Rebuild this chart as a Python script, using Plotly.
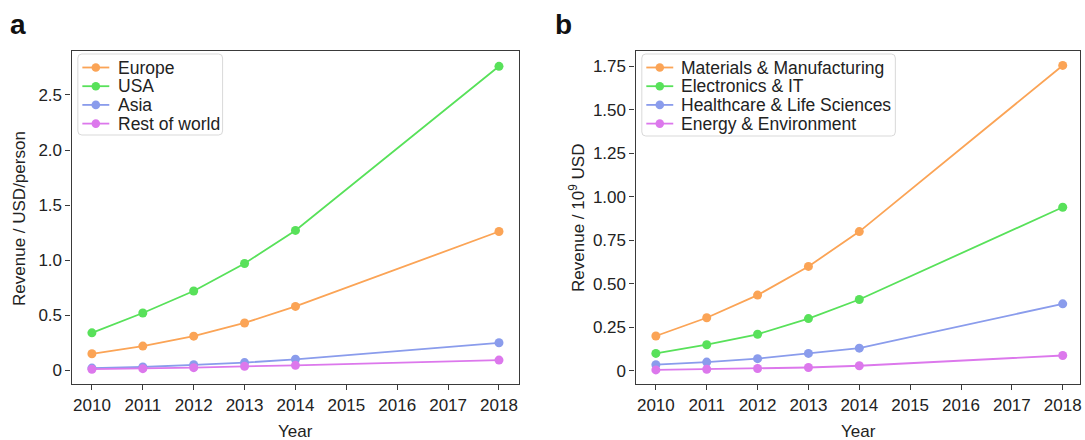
import plotly.graph_objects as go

W, H = 1085, 440

years = [2010, 2011, 2012, 2013, 2014, 2018]

# Panel a: revenue per person by region
regions = ["Europe", "USA", "Asia", "Rest of world"]
europe = [0.15, 0.22, 0.31, 0.43, 0.58, 1.26]
usa = [0.34, 0.52, 0.72, 0.97, 1.27, 2.76]
asia = [0.02, 0.03, 0.05, 0.07, 0.10, 0.25]
rest_of_world = [0.01, 0.015, 0.024, 0.036, 0.045, 0.093]

# Panel b: total revenue by sector
sectors = ["Materials & Manufacturing", "Electronics & IT",
           "Healthcare & Life Sciences", "Energy & Environment"]
materials = [0.20, 0.305, 0.435, 0.60, 0.80, 1.755]
electronics = [0.10, 0.15, 0.21, 0.30, 0.41, 0.94]
healthcare = [0.035, 0.05, 0.07, 0.10, 0.13, 0.385]
energy = [0.005, 0.009, 0.013, 0.019, 0.029, 0.088]

x_ticks = list(range(2010, 2019))
a_yticks = [0, 0.5, 1.0, 1.5, 2.0, 2.5]
a_yticklabels = ["0", "0.5", "1.0", "1.5", "2.0", "2.5"]
b_yticks = [0, 0.25, 0.5, 0.75, 1.0, 1.25, 1.5, 1.75]
b_yticklabels = ["0", "0.25", "0.50", "0.75", "1.00", "1.25", "1.50", "1.75"]

colors = ["#FBA456", "#58E15A", "#8A9CEC", "#DC78EC"]

FONT = "Liberation Sans, Arial, Helvetica, sans-serif"
FRAME = "#3a3a3a"
TEXT = "#222222"

fig = go.Figure()

for name, vals, c in zip(regions, [europe, usa, asia, rest_of_world], colors):
    fig.add_trace(go.Scatter(
        x=years, y=vals, name=name, mode="lines+markers",
        line=dict(color=c, width=1.8), marker=dict(color=c, size=9),
        xaxis="x", yaxis="y", showlegend=False))

for name, vals, c in zip(sectors, [materials, electronics, healthcare, energy], colors):
    fig.add_trace(go.Scatter(
        x=years, y=vals, name=name, mode="lines+markers",
        line=dict(color=c, width=1.8), marker=dict(color=c, size=9),
        xaxis="x2", yaxis="y2", showlegend=False))


def px_x(p):
    return p / W


def px_y(p):
    return 1 - p / H


ydom = [px_y(384.3), px_y(51)]

axis_common = dict(
    showline=True, linecolor=FRAME, linewidth=1.3, mirror=True,
    ticks="outside", ticklen=5, tickwidth=1.2, tickcolor=FRAME,
    showgrid=False, zeroline=False,
    tickfont=dict(family=FONT, size=17, color=TEXT),
)

fig.update_layout(
    width=W, height=H,
    margin=dict(l=0, r=0, t=0, b=0),
    paper_bgcolor="white", plot_bgcolor="white",
    font=dict(family=FONT, color=TEXT),
    showlegend=False,
    xaxis=dict(domain=[px_x(71.7), px_x(520.3)], range=[2009.6, 2018.4],
               tickvals=x_ticks, anchor="y", **axis_common),
    yaxis=dict(domain=ydom, range=[-0.127, 2.899], tickvals=a_yticks,
               ticktext=a_yticklabels, anchor="x", **axis_common),
    xaxis2=dict(domain=[px_x(636.7), px_x(1082)], range=[2009.6, 2018.34],
                tickvals=x_ticks, anchor="y2", **axis_common),
    yaxis2=dict(domain=ydom, range=[-0.0775, 1.838], tickvals=b_yticks,
                ticktext=b_yticklabels, anchor="x2", **axis_common),
)

shapes = []
annotations = []


def rounded_box(x0, y0, x1, y1, r=4):
    X0, X1 = px_x(x0), px_x(x1)
    Y0, Y1 = px_y(y0), px_y(y1)
    rx, ry = r / W, r / H
    path = (f"M {X0 + rx},{Y0} L {X1 - rx},{Y0} Q {X1},{Y0} {X1},{Y0 - ry} "
            f"L {X1},{Y1 + ry} Q {X1},{Y1} {X1 - rx},{Y1} "
            f"L {X0 + rx},{Y1} Q {X0},{Y1} {X0},{Y1 + ry} "
            f"L {X0},{Y0 - ry} Q {X0},{Y0} {X0 + rx},{Y0} Z")
    return dict(type="path", path=path, xref="paper", yref="paper",
                fillcolor="rgba(255,255,255,0.85)",
                line=dict(color="#d9d9d9", width=1), layer="above")


def legend_block(names, box, line_x0, line_x1, text_x, row0=67.5, step=18.7):
    shapes.append(rounded_box(*box))
    for i, (name, c) in enumerate(zip(names, colors)):
        yy = row0 + i * step
        shapes.append(dict(type="line", xref="paper", yref="paper",
                           x0=px_x(line_x0), x1=px_x(line_x1),
                           y0=px_y(yy), y1=px_y(yy),
                           line=dict(color=c, width=1.8), layer="above"))
        xm = (line_x0 + line_x1) / 2
        rad = 4.3
        shapes.append(dict(type="circle", xref="paper", yref="paper",
                           x0=px_x(xm - rad), x1=px_x(xm + rad),
                           y0=px_y(yy + rad), y1=px_y(yy - rad),
                           fillcolor=c, line=dict(color=c, width=0),
                           layer="above"))
        annotations.append(dict(text=name, x=px_x(text_x), y=px_y(yy),
                                xanchor="left", yanchor="middle",
                                font=dict(family=FONT, size=17.5, color=TEXT)))


legend_block(regions, (78, 54, 223, 135), 82.5, 109.5, 116)
legend_block(sectors, (643, 54, 897, 136), 647.5, 674.5, 680)

annotations += [
    dict(text="<b>a</b>", x=px_x(18.5), y=px_y(24), xanchor="center", yanchor="middle",
         font=dict(family=FONT, size=28, color="#111")),
    dict(text="<b>b</b>", x=px_x(564.5), y=px_y(24), xanchor="center", yanchor="middle",
         font=dict(family=FONT, size=28, color="#111")),
    dict(text="Year", x=px_x(296), y=px_y(443), xanchor="center", yanchor="bottom",
         font=dict(family=FONT, size=17, color=TEXT)),
    dict(text="Year", x=px_x(860), y=px_y(443), xanchor="center", yanchor="bottom",
         font=dict(family=FONT, size=17, color=TEXT)),
    dict(text="Revenue / USD/person", x=px_x(19), y=px_y(218), textangle=-90,
         xanchor="center", yanchor="middle",
         font=dict(family=FONT, size=17, color=TEXT)),
    dict(text="Revenue / 10<sup>9</sup> USD", x=px_x(578), y=px_y(218), textangle=-90,
         xanchor="center", yanchor="middle",
         font=dict(family=FONT, size=17, color=TEXT)),
]
for a in annotations:
    a.update(xref="paper", yref="paper", showarrow=False)

fig.update_layout(shapes=shapes, annotations=annotations)

fig.write_html("out.html")
